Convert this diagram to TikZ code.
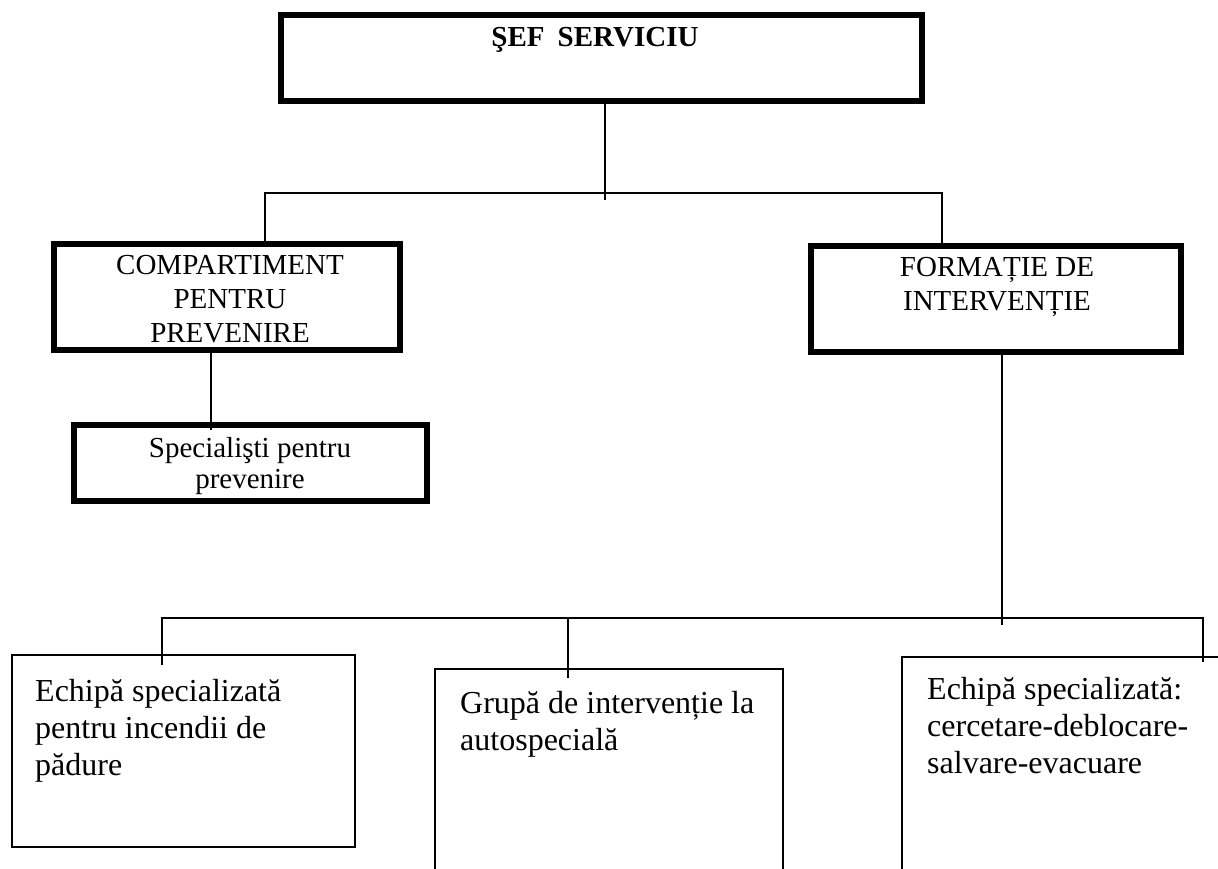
\documentclass[tikz,border=0pt]{standalone}
\usepackage{fontspec}
\setmainfont{Liberation Serif}
\usetikzlibrary{calc}
\begin{document}
\begin{tikzpicture}[x=1pt,y=-1pt,
  heavybox/.style={draw=black, line width=6.5pt, rectangle, inner sep=0pt},
  thinbox/.style={draw=black, line width=2.5pt, rectangle, inner sep=0pt},
  conn/.style={draw=black, line width=2pt},
  upper/.style={inner sep=0pt, align=center, font=\fontsize{29}{34}\selectfont},
  lower/.style={inner sep=0pt, align=left, font=\fontsize{32}{37}\selectfont}]
\clip (0,0) rectangle (1218,868);
\fill[white] (0,0) rectangle (1218,868);

% boxes
\node[heavybox, minimum width=641pt, minimum height=86pt] (sef) at (601.5,58) {};
\node[heavybox, minimum width=346pt, minimum height=106pt] (comp) at (227,297) {};
\node[heavybox, minimum width=353pt, minimum height=76pt] (spec) at (250.5,463) {};
\node[heavybox, minimum width=370pt, minimum height=106pt] (form) at (996,299) {};
\node[thinbox, minimum width=343pt, minimum height=192pt] (e1) at (183.5,751) {};
\node[thinbox, minimum width=348pt, minimum height=231pt] (gr) at (609,784.5) {};
\node[thinbox, minimum width=358pt, minimum height=243pt] (e2) at (1081,778.5) {};

% texts (anchor=base is the baseline of the last line)
\node[upper, anchor=base, font=\fontsize{29}{34}\selectfont\bfseries] (sefT) at (595,46) {ŞEF\hspace{0.45em}SERVICIU};
\node[upper, anchor=base] (compT) at (230,342) {COMPARTIMENT\\PENTRU\\PREVENIRE};
\node[upper, anchor=base, font=\fontsize{29}{31}\selectfont] (specT) at (250,488) {Specialişti pentru\\prevenire};
\node[upper, anchor=base] (formT) at (997,310) {FORMAȚIE DE\\INTERVENȚIE};
\node[lower, anchor=base west] (e1T) at (35,775) {Echipă specializată\\pentru incendii de\\pădure};
\node[lower, anchor=base west] (grT) at (460,750) {Grupă de intervenție la\\autospecială};
\node[lower, anchor=base west] (e2T) at (927,773) {Echipă specializată:\\cercetare-deblocare-\\salvare-evacuare};

% connectors
\coordinate (t1) at (605,200);
\coordinate (hL) at (265,193);
\coordinate (hR) at (942,193);
\draw[conn] (sef.south -| t1) -- (t1);
\draw[conn] (comp.north -| hL) -- (hL) -- (hR) -- (form.north -| hR);
\coordinate (c1) at (211,430);
\draw[conn] (comp.south -| c1) -- (c1);
\coordinate (f1) at (1002,625);
\draw[conn] (form.south -| f1) -- (f1);
\coordinate (b1) at (162,665);
\coordinate (b2) at (568,678);
\coordinate (b3) at (1203,662);
\draw[conn] (b1) -- (162,618) -- (1203,618) -- (b3);
\draw[conn] (568,618) -- (b2);
\end{tikzpicture}
\end{document}
